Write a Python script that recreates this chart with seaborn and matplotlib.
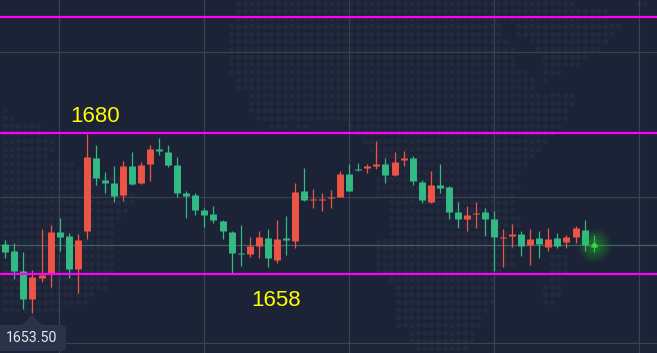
import numpy as np
import pandas as pd
import seaborn as sns
import matplotlib.pyplot as plt
from matplotlib.patches import FancyBboxPatch, Polygon
from matplotlib.transforms import Affine2D

# --- Candle data ---
opens = [1662.69, 1661.59, 1658.47, 1654.11, 1657.38, 1658.11, 1664.56, 1663.93, 1658.79, 1664.71, 1676.10,
         1672.67, 1672.20, 1670.33, 1674.85, 1672.20, 1675.17, 1677.51, 1677.04, 1675.01, 1670.64, 1670.33,
         1667.99, 1667.37, 1666.27, 1664.56, 1661.28, 1661.13, 1662.37, 1663.62, 1660.19, 1663.62, 1663.15,
         1670.95, 1669.55, 1669.55, 1669.86, 1670.02, 1673.61, 1674.39, 1674.54, 1674.85, 1675.17, 1673.45,
         1675.79, 1676.10, 1672.36, 1669.24, 1671.89, 1671.58, 1667.68, 1666.59, 1667.37, 1667.68, 1666.59,
         1663.62, 1663.93, 1664.25, 1662.53, 1663.62, 1662.22, 1663.62, 1663.00, 1663.78, 1664.87, 1662.53]
closes = [1661.44, 1658.47, 1654.11, 1657.54, 1657.85, 1664.56, 1663.78, 1658.79, 1663.31, 1676.26, 1672.98,
          1672.20, 1670.17, 1674.85, 1672.05, 1675.01, 1677.51, 1677.19, 1675.01, 1670.64, 1670.17, 1667.99,
          1667.21, 1666.43, 1664.71, 1661.28, 1661.13, 1662.37, 1663.78, 1660.50, 1663.47, 1663.31, 1670.80,
          1669.55, 1669.71, 1669.71, 1670.02, 1673.61, 1670.95, 1674.23, 1674.85, 1675.17, 1673.45, 1675.48,
          1676.10, 1672.51, 1669.55, 1671.89, 1671.42, 1667.68, 1666.59, 1667.21, 1667.52, 1666.59, 1663.78,
          1663.78, 1664.25, 1662.37, 1663.47, 1662.69, 1663.47, 1662.37, 1663.78, 1665.18, 1662.53, 1662.22]
highs = [1663.31, 1662.84, 1661.44, 1658.63, 1665.03, 1665.65, 1666.74, 1664.40, 1664.25, 1679.85, 1678.13,
         1673.92, 1674.85, 1675.63, 1677.04, 1675.48, 1678.13, 1679.22, 1678.13, 1676.26, 1670.95, 1670.64,
         1668.30, 1668.61, 1666.43, 1664.71, 1665.65, 1663.78, 1664.71, 1665.03, 1666.43, 1667.05, 1672.20,
         1674.54, 1671.27, 1670.64, 1671.11, 1674.07, 1675.17, 1675.32, 1675.17, 1678.75, 1676.10, 1677.04,
         1677.19, 1676.41, 1672.67, 1674.07, 1675.17, 1671.73, 1669.24, 1668.61, 1669.24, 1668.30, 1667.83,
         1665.03, 1665.81, 1664.71, 1665.03, 1664.71, 1665.18, 1664.40, 1664.09, 1665.49, 1666.43, 1664.09]
lows = [1660.50, 1657.23, 1652.55, 1651.92, 1656.76, 1655.98, 1661.59, 1657.38, 1655.04, 1663.47, 1671.89,
        1670.64, 1669.24, 1669.39, 1671.89, 1672.05, 1672.51, 1676.57, 1674.70, 1670.02, 1666.74, 1667.21,
        1665.34, 1665.96, 1663.47, 1658.16, 1659.25, 1660.66, 1660.50, 1659.10, 1659.72, 1660.97, 1662.06,
        1669.39, 1668.30, 1667.83, 1668.30, 1670.02, 1670.95, 1674.07, 1673.76, 1674.39, 1672.20, 1673.29,
        1674.85, 1671.89, 1669.08, 1669.08, 1670.64, 1666.59, 1665.18, 1664.71, 1665.18, 1663.93, 1658.47,
        1659.10, 1662.22, 1660.81, 1659.41, 1660.50, 1661.59, 1662.06, 1662.06, 1662.84, 1661.59, 1661.44]

levels = [1698.1, 1680, 1658]
level_labels = ['1680', '1658']
grid_x = [6, 22, 38, 54, 70]
grid_y = [1692.6, 1670.0, 1647.3]
last_price = 1662.45
tooltip_text = '1653.50'

# Background world map: dot spans per row, in pixels from the top left
map_rows = [
    [(238, 578), (633, 650)], [(238, 607)], [(238, 610)], [(230, 500), (518, 623)], [(230, 500), (518, 617)],
    [(230, 507), (527, 608)], [(230, 515), (532, 602)], [(230, 515), (540, 588)], [(230, 515), (540, 582)],
    [(230, 528), (540, 560)], [(237, 535), (540, 548)], [(237, 535)], [(245, 575)], [(250, 575)],
    [(4, 6), (250, 568)], [(4, 12), (257, 568)], [(4, 38), (270, 290), (297, 307), (350, 562)],
    [(4, 45), (355, 555)], [(4, 54), (363, 550)], [(4, 53), (365, 542)], [(4, 47), (58, 59), (375, 535)],
    [(4, 75), (382, 528)], [(4, 82), (393, 522)], [(4, 120), (372, 515)], [(4, 127), (378, 522)],
    [(4, 133), (378, 515)], [(4, 133), (385, 515)], [(4, 128), (385, 515)], [(4, 122), (385, 522)],
    [(4, 113), (385, 522)], [(4, 113), (385, 508)], [(4, 113), (378, 515)], [(4, 113), (378, 515)],
    [(4, 113), (378, 515), (547, 568)], [(4, 113), (378, 515), (547, 568)], [(4, 113), (378, 500), (547, 568)],
    [(4, 107), (385, 495), (547, 562)], [(4, 107), (392, 495), (540, 562)], [(4, 97), (392, 495), (540, 562)],
    [(4, 90), (392, 495), (540, 555)], [(4, 63), (392, 488), (547, 548)], [(392, 482)], [(398, 482)],
    [(405, 475)], [(405, 475)], [(412, 468)],
]

BG = '#1c2336'
RED = '#ec5546'
GREEN = '#33b983'
GRID = '#3a4153'

sns.set_theme(style='dark', rc={'axes.facecolor': BG, 'figure.facecolor': BG})
plt.rcParams['font.family'] = ['Liberation Sans', 'DejaVu Sans']

# --- Tables for seaborn ---
n = len(opens)
direction = ['up' if c >= o else 'down' for o, c in zip(opens, closes)]
wicks = pd.DataFrame({
    'idx': np.repeat(np.arange(n), 2),
    'price': np.ravel(np.column_stack([lows, highs])),
    'dir': np.repeat(direction, 2),
})
bodies = pd.DataFrame({
    'idx': np.repeat(np.arange(n), 2),
    'price': np.ravel(np.column_stack([opens, closes])),
    'dir': np.repeat(direction, 2),
})
palette = {'up': RED, 'down': GREEN}

dots_x, dots_y = [], []
for r, spans in enumerate(map_rows):
    for left, right in spans:
        for col in np.arange(4.6, 657, 6.67):
            if left <= col <= right:
                dots_x.append(col)
                dots_y.append(3 + 7.67 * r)

# --- Plotting ---
fig = plt.figure(figsize=(6.57, 3.53), dpi=100)
ax = fig.add_axes([0, 0, 1, 1])
px = Affine2D().scale(1, -1).translate(0, 353)  # pixels from the top left

sns.scatterplot(x=dots_x, y=dots_y, ax=ax, color='#232a3e', s=15, linewidth=0, transform=px, zorder=1, legend=False)

for gx in grid_x:
    ax.axvline(gx - 0.03, color=GRID, lw=0.9, zorder=1.5)
for gy in grid_y:
    ax.axhline(gy, color=GRID, lw=0.9, zorder=1.5)
ax.axhline(last_price, color='#3c6463', lw=0.9, zorder=1.6)

sns.lineplot(data=wicks, x='idx', y='price', hue='dir', units='idx', estimator=None, sort=False,
             palette=palette, linewidth=0.9, legend=False, ax=ax, solid_capstyle='butt', zorder=2)
sns.lineplot(data=bodies, x='idx', y='price', hue='dir', units='idx', estimator=None, sort=False,
             palette=palette, linewidth=5.0, legend=False, ax=ax, solid_capstyle='butt', zorder=3)

for lv in levels:
    ax.axhline(lv, color='#ff00ff', lw=1.6, zorder=5)

# Glow on the last price
for size, alpha in [(620, 0.05), (460, 0.07), (320, 0.09), (190, 0.11), (90, 0.14)]:
    sns.scatterplot(x=[n - 1], y=[last_price], ax=ax, color='#22d428', s=size, alpha=alpha, linewidth=0, zorder=4, legend=False)
sns.scatterplot(x=[n - 1], y=[last_price], ax=ax, color='#38d83a', s=14, linewidth=0, zorder=4.5, legend=False)

ax.text(7.16, 1681.7, level_labels[0], color='#ffff00', fontsize=16, va='baseline', ha='left', zorder=6)
ax.text(27.14, 1653.0, level_labels[1], color='#ffff00', fontsize=16, va='baseline', ha='left', zorder=6)

# Price tooltip at the bottom left
ax.add_patch(Polygon([(22, 325), (32, 315), (42, 325)], closed=True, color='#2a3349', lw=0, transform=px, zorder=6))
ax.add_patch(FancyBboxPatch((-8, 327), 72, 22, boxstyle='round,pad=0,rounding_size=3', fc='#2a3349', ec='#2a3349',
                            lw=3, transform=px, zorder=6))
ax.text(31.5, 338.5, tooltip_text, color='#e6e9ee', fontsize=10.2, family='Roboto', ha='center', va='center',
        transform=px, zorder=7)

ax.set_xlim(-0.586, 72.0)
ax.set_ylim(1645.67, 1700.75)
ax.set_xlabel('')
ax.set_ylabel('')
ax.set_xticks([])
ax.set_yticks([])
sns.despine(ax=ax, left=True, bottom=True)

fig.savefig('out.png', dpi=100, facecolor=BG)
